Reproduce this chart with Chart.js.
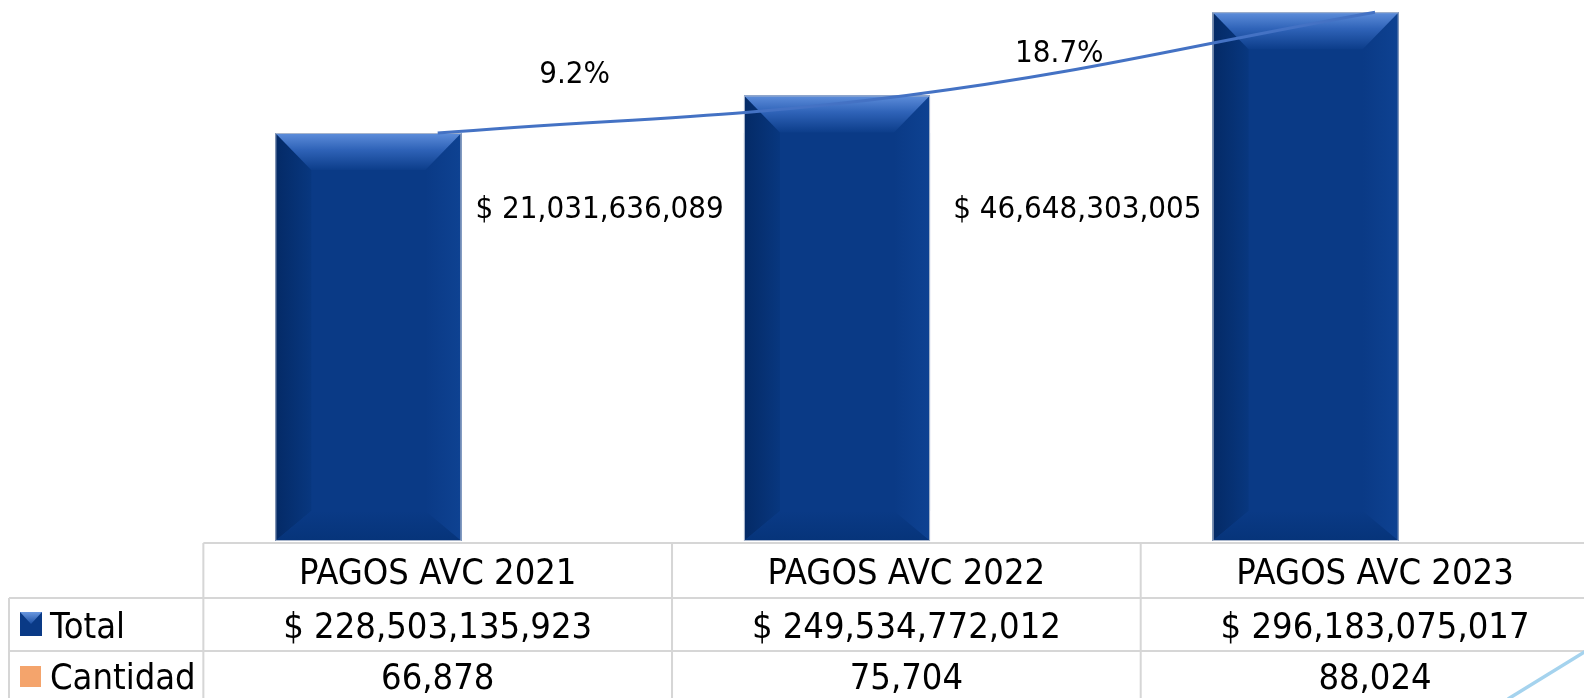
<!DOCTYPE html>
<html>
<head>
<meta charset="utf-8">
<script src="https://cdn.jsdelivr.net/npm/chart.js@4/dist/chart.umd.min.js"></script>
<style>
  html, body { margin: 0; padding: 0; background: #ffffff; overflow: hidden; }
  #wrap { width: 1584px; height: 698px; position: relative; }
</style>
</head>
<body>
<div id="wrap"><canvas id="c" width="1584" height="698"></canvas></div>
<script>
// ---- data ----
const categories = ['PAGOS AVC 2021', 'PAGOS AVC 2022', 'PAGOS AVC 2023'];
const seriesNames = ['Total', 'Cantidad'];
const totalValues = [228503135923, 249534772012, 296183075017];
const cantidadValues = [66878, 75704, 88024];
const growthLabels = ['9.2%', '18.7%'];
const diffLabels = ['$ 21,031,636,089', '$ 46,648,303,005'];

// ---- style ----
const FONT = '"DejaVu Sans Condensed", "DejaVu Sans", sans-serif';
const TABLE_FONT_SIZE = 36;
const NOTE_FONT_SIZE = 31;
const GRID = '#d6d6d6';
const NAVY = '#0a3a86';
const LINE_BLUE = '#4472c4';
const ORANGE = '#f4a46c';

const fmtMoney = v => '$ ' + v.toLocaleString('en-US');
const fmtInt = v => v.toLocaleString('en-US');

function textMid(ctx, str, x, yCenter, size, align) {
  ctx.font = size + 'px ' + FONT;
  ctx.textAlign = align || 'center';
  ctx.textBaseline = 'alphabetic';
  ctx.fillText(str, x, yCenter + 0.3645 * size);
}

const bevelPlugin = {
  id: 'bevel',
  afterDatasetDraw(chart, args) {
    if (args.meta.type !== 'bar') return;
    const ctx = chart.ctx;
    args.meta.data.forEach(el => {
      const L = el.x - el.width / 2, R = el.x + el.width / 2, T = el.y, B = el.base;
      const dx = 36, dtop = 37, dbot = 30;
      ctx.save();
      // left side
      let g = ctx.createLinearGradient(L, 0, L + dx, 0);
      g.addColorStop(0, '#042a66'); g.addColorStop(1, '#08377f');
      ctx.fillStyle = g;
      ctx.beginPath(); ctx.moveTo(L, T); ctx.lineTo(L + dx, T + dtop); ctx.lineTo(L + dx, B - dbot); ctx.lineTo(L, B); ctx.closePath(); ctx.fill();
      // right side
      g = ctx.createLinearGradient(R - dx, 0, R, 0);
      g.addColorStop(0, '#0a3a86'); g.addColorStop(1, '#0e4292');
      ctx.fillStyle = g;
      ctx.beginPath(); ctx.moveTo(R, T); ctx.lineTo(R - dx, T + dtop); ctx.lineTo(R - dx, B - dbot); ctx.lineTo(R, B); ctx.closePath(); ctx.fill();
      // bottom
      g = ctx.createLinearGradient(0, B - dbot, 0, B);
      g.addColorStop(0, '#0a3a86'); g.addColorStop(1, '#06347a');
      ctx.fillStyle = g;
      ctx.beginPath(); ctx.moveTo(L, B); ctx.lineTo(L + dx, B - dbot); ctx.lineTo(R - dx, B - dbot); ctx.lineTo(R, B); ctx.closePath(); ctx.fill();
      // top
      g = ctx.createLinearGradient(0, T, 0, T + dtop);
      g.addColorStop(0, '#5e8edb'); g.addColorStop(0.45, '#2f63b8'); g.addColorStop(1, '#0c3d8a');
      ctx.fillStyle = g;
      ctx.beginPath(); ctx.moveTo(L, T); ctx.lineTo(R, T); ctx.lineTo(R - dx, T + dtop); ctx.lineTo(L + dx, T + dtop); ctx.closePath(); ctx.fill();
      // outline
      ctx.strokeStyle = '#a9b6cc';
      ctx.lineWidth = 1;
      ctx.strokeRect(L + 0.5, T + 0.5, R - L - 1, B - T - 1);
      ctx.restore();
    });
  }
};

const tablePlugin = {
  id: 'table',
  afterDraw(chart) {
    const ctx = chart.ctx;
    const xb = chart.scales.x;   // bar category scale
    const xl = chart.scales.x2;  // line / table scale
    const colW = xl.getPixelForValue(1) - xl.getPixelForValue(0);
    const rows = [543, 598, 651, 704];
    const legendLeft = 9;
    const firstCol = xl.getPixelForValue(0) - colW / 2;
    ctx.save();
    ctx.fillStyle = '#000';
    // annotations between the bars
    const noteDx = [-28, -12];
    const noteY = [72, 51];
    const diffDx = [-3, 6];
    const diffY = [207, 207];
    for (let i = 0; i < 2; i++) {
      const mid = (xb.getPixelForValue(i) + xb.getPixelForValue(i + 1)) / 2;
      textMid(ctx, growthLabels[i], mid + noteDx[i], noteY[i], NOTE_FONT_SIZE);
      textMid(ctx, diffLabels[i], mid + diffDx[i], diffY[i], NOTE_FONT_SIZE);
    }
    // grid
    ctx.strokeStyle = GRID;
    ctx.lineWidth = 2;
    ctx.beginPath();
    ctx.moveTo(firstCol, rows[0]); ctx.lineTo(1584, rows[0]);
    ctx.moveTo(legendLeft, rows[1]); ctx.lineTo(1584, rows[1]);
    ctx.moveTo(legendLeft, rows[2]); ctx.lineTo(1584, rows[2]);
    ctx.moveTo(legendLeft, rows[1]); ctx.lineTo(legendLeft, 698);
    for (let i = 0; i <= categories.length; i++) {
      const x = firstCol + i * colW;
      ctx.moveTo(x, rows[0]); ctx.lineTo(x, 698);
    }
    ctx.stroke();
    // header + values
    ctx.fillStyle = '#000';
    categories.forEach((c, i) => {
      const cx = xl.getPixelForValue(i);
      textMid(ctx, c, cx, 570.5, TABLE_FONT_SIZE);
      textMid(ctx, fmtMoney(totalValues[i]), cx, 624.5, TABLE_FONT_SIZE);
      textMid(ctx, fmtInt(cantidadValues[i]), cx, 676, TABLE_FONT_SIZE);
    });
    // legend keys
    let kx = 20, ky = 612, kw = 22, kh = 24;
    ctx.fillStyle = NAVY; ctx.fillRect(kx, ky, kw, kh);
    const g = ctx.createLinearGradient(0, ky, 0, ky + kh / 2);
    g.addColorStop(0, '#6a98e0'); g.addColorStop(1, '#1b4fa3');
    ctx.fillStyle = g;
    ctx.beginPath(); ctx.moveTo(kx, ky); ctx.lineTo(kx + kw, ky); ctx.lineTo(kx + kw / 2, ky + kh / 2); ctx.closePath(); ctx.fill();
    ctx.fillStyle = ORANGE; ctx.fillRect(20, 666, 21, 21);
    ctx.fillStyle = '#000';
    textMid(ctx, seriesNames[0], 50, 624.5, TABLE_FONT_SIZE, 'left');
    textMid(ctx, seriesNames[1], 50, 676, TABLE_FONT_SIZE, 'left');
    // light-blue connector fragment at bottom right
    ctx.strokeStyle = '#a5d3ee';
    ctx.lineWidth = 3.5;
    ctx.beginPath(); ctx.moveTo(1508, 699); ctx.lineTo(1586, 651); ctx.stroke();
    ctx.restore();
  }
};

new Chart(document.getElementById('c'), {
  type: 'bar',
  data: {
    labels: categories,
    datasets: [
      {
        type: 'line',
        label: seriesNames[0] + ' tendencia',
        data: totalValues.map((v, i) => ({ x: i, y: v })),
        xAxisID: 'x2', yAxisID: 'y',
        borderColor: LINE_BLUE, borderWidth: 3,
        pointRadius: 0, tension: 0.4, fill: false, order: 0
      },
      {
        type: 'bar',
        label: seriesNames[0],
        data: totalValues,
        xAxisID: 'x', yAxisID: 'y',
        backgroundColor: NAVY,
        borderWidth: 0,
        grouped: false,
        barPercentage: 0.397, categoryPercentage: 1.0,
        order: 1
      }
    ]
  },
  options: {
    responsive: false,
    animation: false,
    devicePixelRatio: 1,
    layout: { padding: { left: 134, right: 44, top: 0, bottom: 157 } },
    plugins: { legend: { display: false }, tooltip: { enabled: false } },
    scales: {
      x: { type: 'category', display: false, offset: true },
      x2: { type: 'linear', display: false, offset: false, grid: { offset: false }, min: -0.648, max: 2.352 },
      y: { type: 'linear', display: false, min: 0, max: 303e9 }
    }
  },
  plugins: [bevelPlugin, tablePlugin]
});
</script>
</body>
</html>
